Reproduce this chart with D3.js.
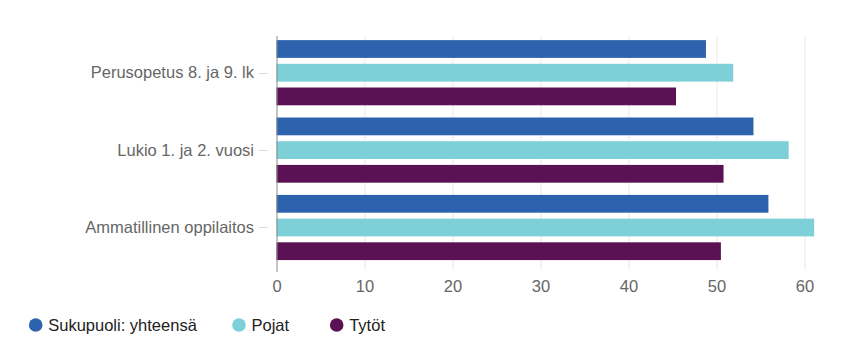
<!DOCTYPE html>
<html>
<head>
<meta charset="utf-8">
<script src="https://cdn.jsdelivr.net/npm/d3@7/dist/d3.min.js"></script>
<style>
  html, body { margin: 0; padding: 0; background: #fff; }
  svg { display: block; font-family: "Liberation Sans", Arial, sans-serif; }
</style>
</head>
<body>
<svg id="chart" width="853" height="345"></svg>
<script>
const categories = ["Perusopetus 8. ja 9. lk", "Lukio 1. ja 2. vuosi", "Ammatillinen oppilaitos"];
const seriesNames = ["Sukupuoli: yhteensä", "Pojat", "Tytöt"];
const seriesColors = ["#2d62ae", "#7dd0d7", "#5b1255"];
const totalValues = [48.8, 54.2, 55.9];
const boysValues  = [51.9, 58.2, 61.1];
const girlsValues = [45.4, 50.8, 50.5];
const xTicks = [0, 10, 20, 30, 40, 50, 60];

const seriesValues = [totalValues, boysValues, girlsValues];

const svg = d3.select("#chart");
const plot = { left: 276.5, right: 804.5, top: 34, bottom: 266.2 };

const x = d3.scaleLinear().domain([0, 60]).range([plot.left, plot.right]);
const y0 = d3.scaleBand().domain(categories).range([plot.top, plot.bottom]).padding(0);
const y1 = d3.scaleBand().domain(seriesNames).range([0, y0.bandwidth()])
  .paddingInner(0.25).paddingOuter(0.258);

// grid lines
svg.append("g").selectAll("line").data(xTicks.filter(d => d !== 0)).join("line")
  .attr("x1", d => x(d) + 0.5).attr("x2", d => x(d) + 0.5)
  .attr("y1", 36).attr("y2", 270)
  .attr("stroke", "#e9e9e9").attr("stroke-width", 1);

// bars
const groups = svg.append("g").selectAll("g").data(categories).join("g")
  .attr("transform", c => `translate(0,${y0(c)})`);
groups.selectAll("rect")
  .data((c, ci) => seriesNames.map((s, si) => ({ s, si, v: seriesValues[si][ci] })))
  .join("rect")
  .attr("x", x(0))
  .attr("y", d => y1(d.s))
  .attr("width", d => x(d.v) - x(0))
  .attr("height", y1.bandwidth())
  .attr("fill", d => seriesColors[d.si]);

// y axis line
svg.append("line")
  .attr("x1", x(0) + 0.5).attr("x2", x(0) + 0.5)
  .attr("y1", 36).attr("y2", 272)
  .attr("stroke", "#8a8a8a").attr("stroke-width", 1);

// category ticks & labels
const catAxis = svg.append("g");
catAxis.selectAll("line").data(categories).join("line")
  .attr("x1", 259).attr("x2", 268)
  .attr("y1", c => Math.round(y0(c) + y0.bandwidth() / 2) + 0.5)
  .attr("y2", c => Math.round(y0(c) + y0.bandwidth() / 2) + 0.5)
  .attr("stroke", "#dcdcdc").attr("stroke-width", 1);
catAxis.selectAll("text").data(categories).join("text")
  .attr("x", 254)
  .attr("y", c => y0(c) + y0.bandwidth() / 2)
  .attr("dy", "0.35em")
  .attr("text-anchor", "end")
  .attr("fill", "#666666")
  .attr("font-size", "16.5px")
  .text(c => c);

// x axis labels
const xAxis = d3.axisBottom(x).tickValues(xTicks).tickSize(0).tickPadding(0);
const xg = svg.append("g").attr("transform", `translate(0, 292)`).call(xAxis);
xg.select(".domain").remove();
xg.selectAll("text")
  .attr("fill", "#666666")
  .attr("font-size", "16.5px")
  .attr("font-family", "Liberation Sans, Arial, sans-serif")
  .attr("y", 0)
  .attr("dy", 0);

// legend
const legendX = [35.7, 239, 336.7];
const legend = svg.append("g").selectAll("g").data(seriesNames).join("g")
  .attr("transform", (d, i) => `translate(${legendX[i]}, 325)`);
legend.append("circle").attr("r", 6.8).attr("fill", (d, i) => seriesColors[i]);
legend.append("text")
  .attr("x", 12.5)
  .attr("dy", "0.35em")
  .attr("font-size", "16.5px")
  .attr("fill", "#222222")
  .text(d => d);
</script>
</body>
</html>
